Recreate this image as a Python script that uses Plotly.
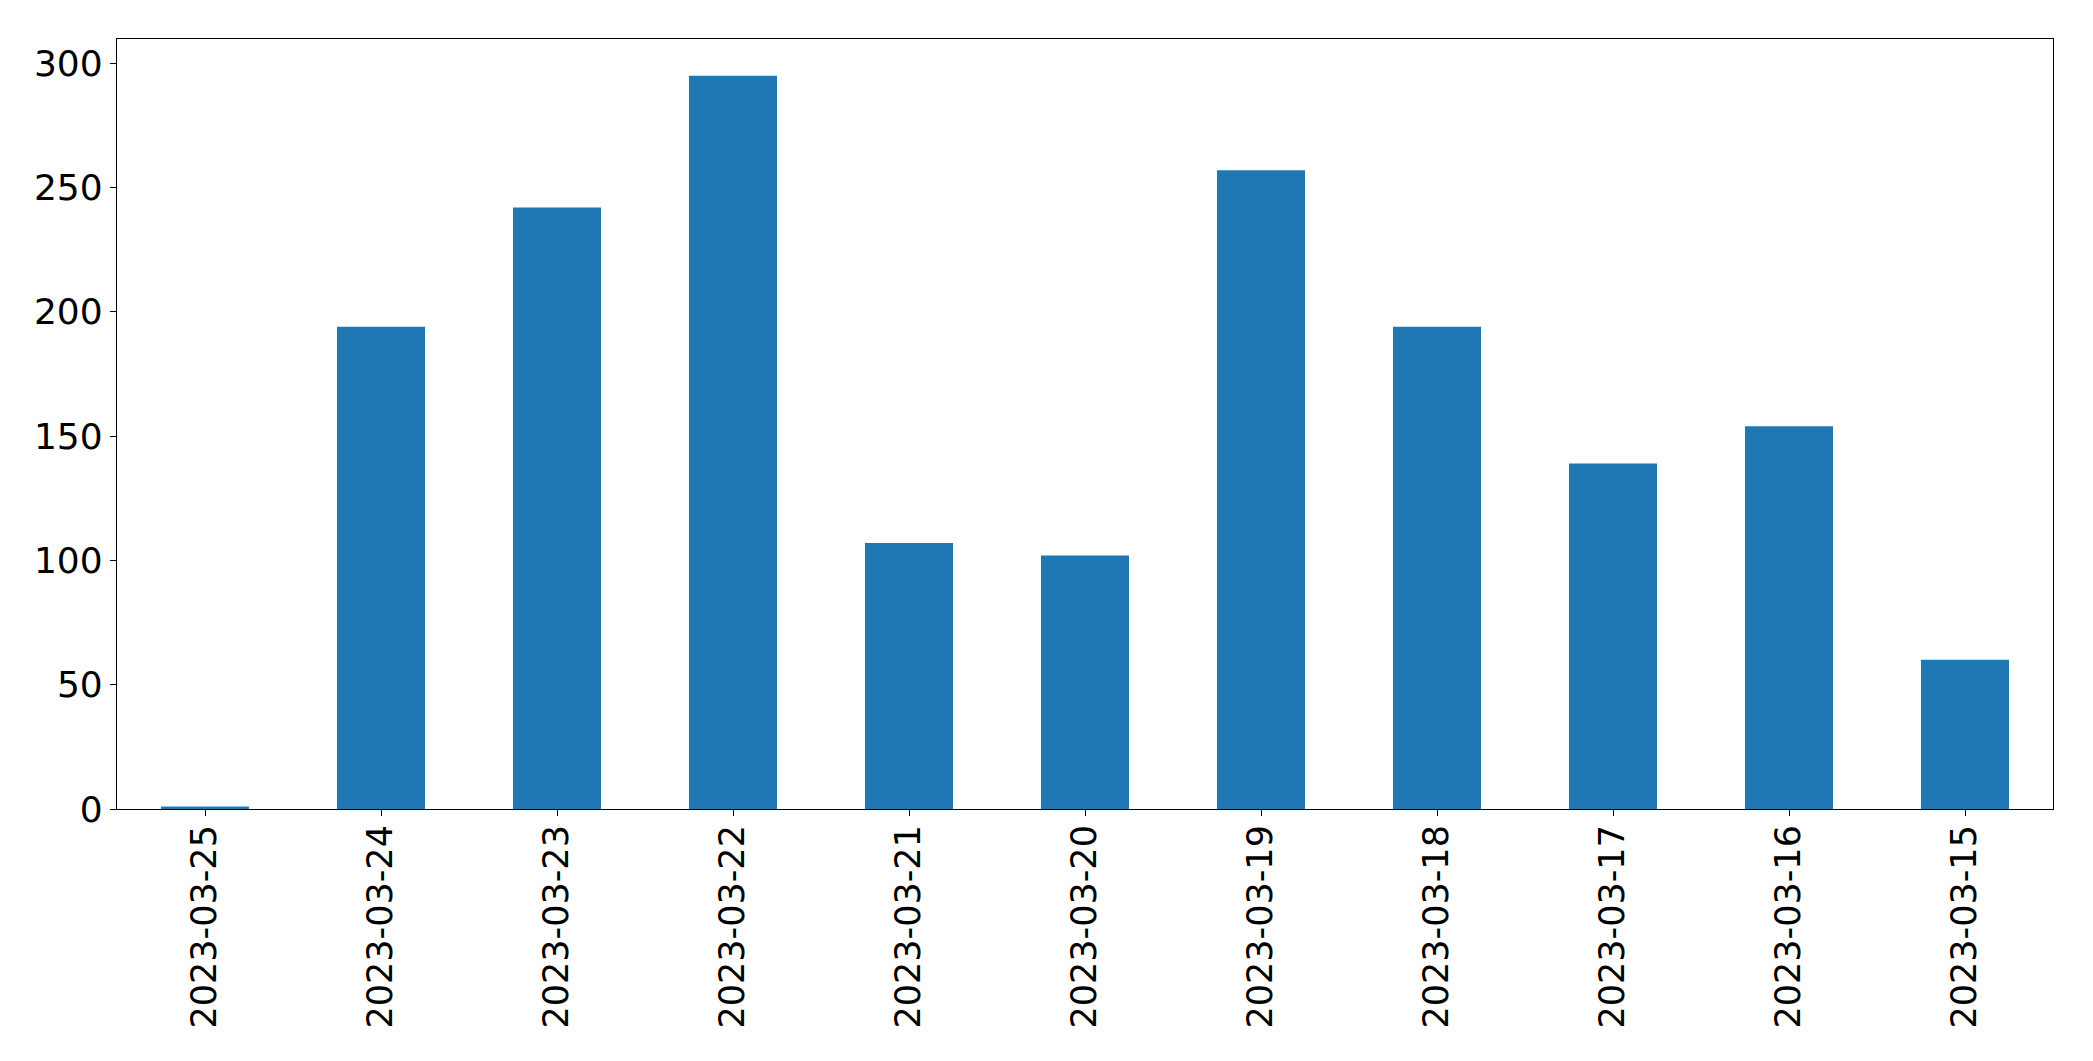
import plotly.graph_objects as go

dates = ["2023-03-25", "2023-03-24", "2023-03-23", "2023-03-22", "2023-03-21",
         "2023-03-20", "2023-03-19", "2023-03-18", "2023-03-17", "2023-03-16",
         "2023-03-15"]
counts = [1, 194, 242, 295, 107, 102, 257, 194, 139, 154, 60]
y_ticks = [0, 50, 100, 150, 200, 250, 300]

fig = go.Figure()
fig.add_trace(go.Bar(
    x=dates,
    y=counts,
    width=0.5,
    marker=dict(color="#1f77b4", line=dict(width=0)),
))

font_family = "DejaVu Sans"
fig.update_layout(
    width=2093,
    height=1061,
    margin=dict(l=117, r=40, t=39, b=252, pad=0),
    paper_bgcolor="white",
    plot_bgcolor="white",
    showlegend=False,
    font=dict(family=font_family, size=36, color="black"),
)
fig.update_xaxes(
    type="category",
    range=[-0.5, len(dates) - 0.5],
    tickangle=-90,
    ticks="outside",
    ticklen=6,
    tickwidth=1,
    tickcolor="black",
    ticklabelstandoff=-5,
    showline=True,
    linecolor="black",
    linewidth=1.2,
    mirror=True,
    showgrid=False,
    zeroline=False,
    tickfont=dict(family=font_family, size=35, color="black"),
)
fig.update_yaxes(
    range=[0, max(counts) * 1.05],
    tickvals=y_ticks,
    ticktext=[str(v) for v in y_ticks],
    ticks="outside",
    ticklen=6,
    tickwidth=1,
    tickcolor="black",
    showline=True,
    linecolor="black",
    linewidth=1.2,
    mirror=True,
    showgrid=False,
    zeroline=False,
    tickfont=dict(family=font_family, size=36, color="black"),
)

fig.write_html(
    "out.html",
    config={"displayModeBar": False},
    post_script="document.body.style.margin='0';document.body.style.overflow='hidden';",
)
